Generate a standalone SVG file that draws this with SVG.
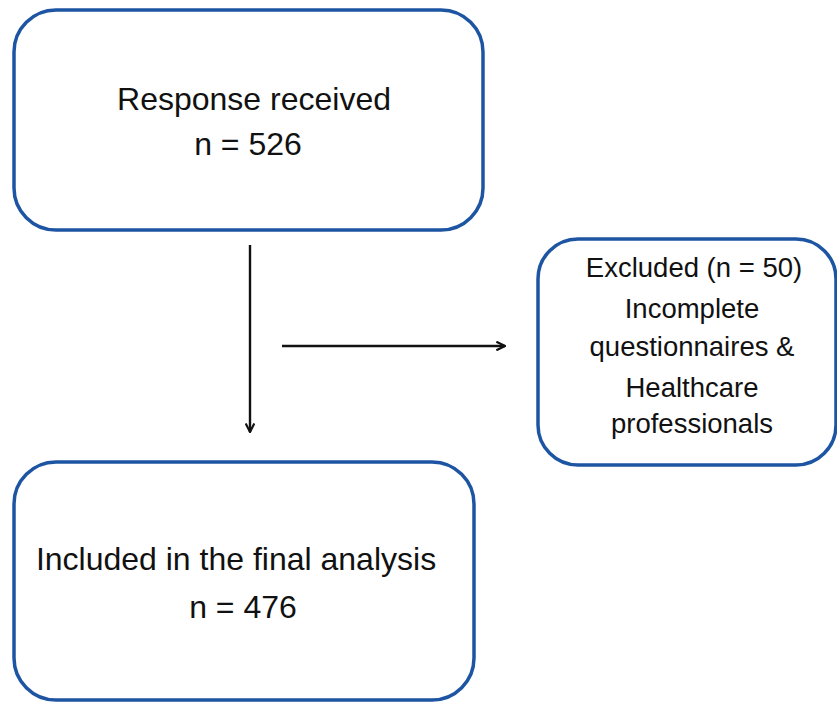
<svg xmlns="http://www.w3.org/2000/svg" width="837" height="703" viewBox="0 0 837 703">
<style>
.box{fill:#ffffff;stroke:#1d55a3;stroke-width:3.5}
.t{font-family:"Liberation Sans",Arial,sans-serif;font-size:32px;fill:#111;text-anchor:middle}
.s{font-size:27.5px}
.c{stroke:#111;stroke-width:2.4;fill:none}
</style>
<defs>
<marker id="ah" viewBox="0 0 10 10" refX="9" refY="5" markerWidth="4.5" markerHeight="4.5" orient="auto" markerUnits="strokeWidth">
<path d="M1,1 L9,5 L1,9" fill="none" stroke="#111" stroke-width="2"/>
</marker>
</defs>
<rect width="837" height="703" fill="#ffffff"/>
<g id="response">
<rect class="box" x="14" y="10" width="469" height="220" rx="42"/>
<text class="t" x="254" y="110">Response received</text>
<text class="t" x="248" y="155">n = 526</text>
</g>
<g id="excluded">
<rect class="box" x="538" y="239" width="298" height="226" rx="40"/>
<text class="t s" x="694" y="277">Excluded (n = 50)</text>
<text class="t s" x="692" y="318">Incomplete</text>
<text class="t s" x="692" y="356">questionnaires &amp;</text>
<text class="t s" x="692" y="397">Healthcare</text>
<text class="t s" x="692" y="433">professionals</text>
</g>
<g id="included">
<rect class="box" x="14" y="462" width="460" height="238" rx="42"/>
<text class="t" x="236" y="570" font-size="33">Included in the final analysis</text>
<text class="t" x="243" y="618" font-size="33">n = 476</text>
</g>
<g id="connectors">
<line class="c" x1="250" y1="245" x2="250" y2="432" marker-end="url(#ah)"/>
<line class="c" x1="282" y1="346" x2="505" y2="346" marker-end="url(#ah)"/>
</g>
</svg>
